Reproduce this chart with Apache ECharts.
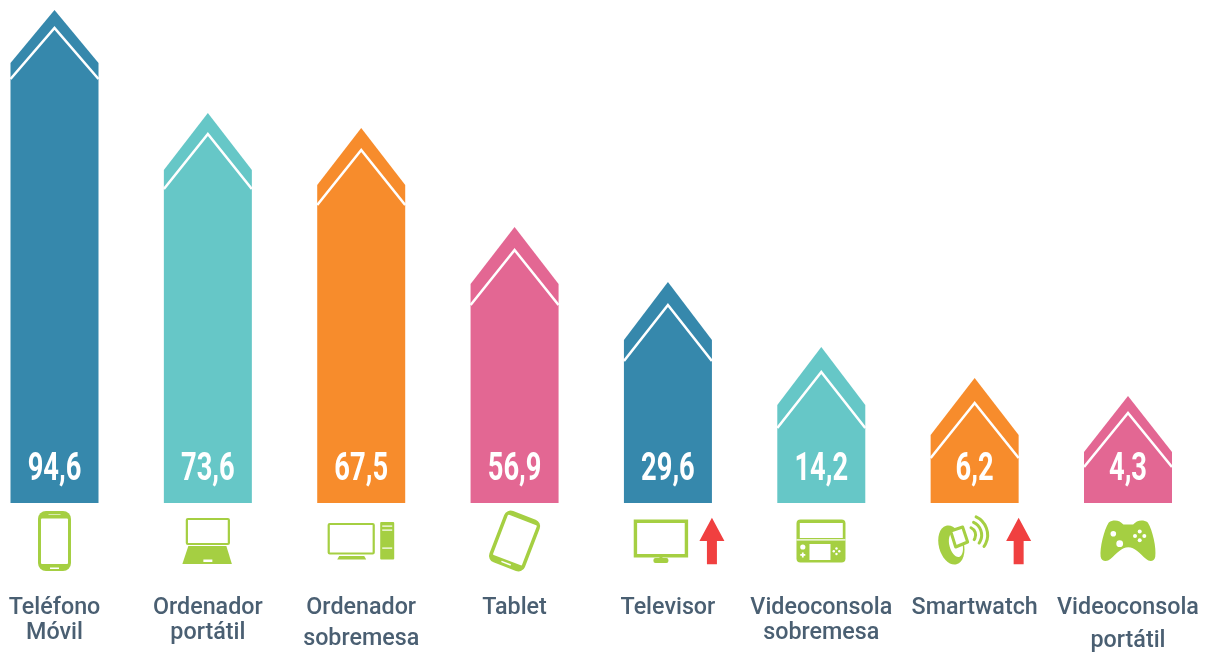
<!DOCTYPE html>
<html>
<head>
<meta charset="utf-8">
<style>html,body{margin:0;padding:0;background:#fff}#chart{width:1216px;height:652px}</style>
<script src="https://cdn.jsdelivr.net/npm/echarts@6/dist/echarts.min.js"></script>
</head>
<body>
<div id="chart"></div>
<script>
// ---- data ----
const categories = ['Teléfono\nMóvil', 'Ordenador\nportátil', 'Ordenador\nsobremesa', 'Tablet', 'Televisor', 'Videoconsola\nsobremesa', 'Smartwatch', 'Videoconsola\nportátil'];
const percentValues = [94.6, 73.6, 67.5, 56.9, 29.6, 14.2, 6.2, 4.3];
// The source graphic's shapes are not proportional to the percentages; these are the drawn heights.
const drawnHeights = [493, 390, 375, 276, 221, 156, 125, 107];
const risingFlags = [false, false, false, false, true, false, true, false];
const iconNames = ['phone', 'laptop', 'desktop', 'tablet', 'tv', 'console', 'watch', 'gamepad'];

// ---- styling / layout ----
const barColors = ['#3688ac', '#66c7c7', '#f78c2c', '#e36793', '#3688ac', '#66c7c7', '#f78c2c', '#e36793'];
const GREEN = '#a5cf42', RED = '#f04040', TEXT = '#4a5f72';
const chevronGaps = [18, 21, 22, 23, 23, 25, 25, 17];
const shoulderDrops = [53, 57, 57, 57, 58, 58, 57, 56];
const lineGaps = [0, 0, 12, 0, 0, 0, 0, 16];
const BAR_W = 88;

function rect(x, y, w, h, fill, r) {
  return {type: 'rect', shape: {x, y, width: w, height: h, r: r || 0}, style: {fill}};
}
function box(x, y, w, h, lw, r) {
  return {type: 'rect', shape: {x, y, width: w, height: h, r: r || 0}, style: {fill: '#fff', stroke: GREEN, lineWidth: lw}};
}
function circle(cx, cy, r, fill) {
  return {type: 'circle', shape: {cx, cy, r}, style: {fill}};
}
function poly(points, fill) {
  return {type: 'polygon', shape: {points}, style: {fill}};
}

// Icon drawings, local coordinates relative to the category centre (x) and baseline (y)
const icons = {
  phone: () => [
    rect(-16.5, 9, 33, 60, GREEN, 8),
    rect(-13.5, 16.5, 27, 45.5, '#fff', 1),
    rect(-4.5, 65.5, 9, 1.5, '#fff'),
    rect(-6, 12, 12, 1, '#d9ebb0')
  ],
  laptop: () => [
    box(-21, 17, 42, 25, 2.2, 1),
    poly([[-19.5, 44], [18.5, 44], [24, 62], [-25.5, 62]], GREEN),
    rect(-4.5, 57.5, 9, 2.5, '#fff')
  ],
  desktop: () => [
    box(-32.5, 22, 45, 29.5, 2.2, 1),
    poly([[-22, 54], [3, 54], [5, 57.5], [-24, 57.5]], GREEN),
    rect(19, 20, 14, 37.5, GREEN, 1),
    rect(21, 23.5, 10, 1.2, '#fff'),
    rect(21, 27.5, 10, 1.2, '#fff'),
    rect(21, 45.5, 10, 1.2, '#fff')
  ],
  tablet: () => [{
    type: 'group', x: 0, y: 39, rotation: -21 * Math.PI / 180,
    children: [
      rect(-19, -27.5, 38, 55, GREEN, 7),
      rect(-15.5, -22.5, 31, 43, '#fff', 1),
      rect(-5, 23, 10, 1.5, '#fff')
    ]
  }],
  tv: () => [
    box(-32.5, 19.2, 51, 34.5, 3.4, 0),
    rect(-14.5, 56, 15, 5, GREEN, 2),
    rect(-8.5, 54, 3, 3, GREEN)
  ],
  console: () => [
    rect(-24.8, 17.5, 49, 43, GREEN, 4),
    rect(-21.5, 21, 43, 15, '#fff'),
    rect(-24.8, 37.2, 49, 1.2, '#fff'),
    rect(-11.8, 42, 21, 16, '#fff'),
    circle(-18.5, 45, 2.6, '#fff'),
    rect(-21, 52, 5, 1.8, '#fff'),
    rect(-19.4, 50.5, 1.8, 5, '#fff'),
    circle(15.2, 46.5, 1.2, '#fff'),
    circle(15.2, 52, 1.2, '#fff'),
    circle(12.5, 49.2, 1.2, '#fff'),
    circle(18, 49.2, 1.2, '#fff')
  ],
  watch: () => [
    {type: 'group', x: -23.3, y: 43, rotation: 15 * Math.PI / 180, children: [
      {type: 'ellipse', shape: {cx: 0, cy: 0, rx: 12.5, ry: 20}, style: {fill: GREEN}},
      {type: 'ellipse', shape: {cx: 4.5, cy: 1, rx: 6.5, ry: 12.5}, style: {fill: '#fff'}}
    ]},
    {type: 'polygon', shape: {points: [[-24, 29], [-12, 25], [-7, 40], [-19, 45]]}, style: {fill: '#fff', stroke: GREEN, lineWidth: 3, lineJoin: 'round'}},
    ...[8, 14, 20].map(r => ({
      type: 'arc',
      shape: {cx: -7, cy: 33, r, startAngle: -65 * Math.PI / 180, endAngle: 35 * Math.PI / 180, clockwise: true},
      style: {fill: null, stroke: GREEN, lineWidth: 3, lineCap: 'round'}
    }))
  ],
  gamepad: () => [
    {
      type: 'path',
      shape: {
        pathData: 'M50 38C65 28 85 32 95 44L125 44C135 32 155 28 170 38C185 60 197 110 193 135C190 150 175 150 165 142C145 125 130 108 110 108C90 108 75 125 55 142C45 150 28 150 25 135C22 110 35 60 50 38Z',
        x: -27.5, y: 18.5, width: 55, height: 40.5, layout: 'cover'
      },
      style: {fill: GREEN}
    },
    circle(-14.7, 31.7, 2.8, '#fff'),
    circle(-8.3, 41.7, 3.4, '#fff'),
    circle(11.7, 29.5, 2, '#fff'),
    circle(11.7, 38.3, 2, '#fff'),
    circle(7, 34, 2, '#fff'),
    circle(16.3, 34, 2, '#fff')
  ]
};

function renderItem(params, api) {
  const i = api.value(0);
  const h = api.value(1);
  const base = api.coord([i, 0]);
  const top = api.coord([i, h]);
  const cx = base[0], by = base[1], ty = top[1];
  const hw = BAR_W / 2;
  const color = barColors[i];
  const sy = ty + shoulderDrops[i];
  const gap = chevronGaps[i];
  const chevApex = ty + gap;
  const chevEdge = sy + gap - 2;
  const children = [
    poly([[cx - hw, by], [cx - hw, sy], [cx, ty], [cx + hw, sy], [cx + hw, by]], color),
    {type: 'polyline', shape: {points: [[cx - hw, chevEdge], [cx, chevApex], [cx + hw, chevEdge]]},
      style: {fill: null, stroke: '#fff', lineWidth: 2.6}},
    {type: 'group', x: cx, y: by - 33, scaleX: 0.7, scaleY: 1,
      children: [{type: 'text', style: {
        text: String(api.value(2)).replace('.', ','), x: 0, y: 0,
        fill: '#fff', font: 'bold 39px Roboto, sans-serif', align: 'center', verticalAlign: 'middle'
      }}]},
    {type: 'group', x: cx, y: by - 1, children: icons[iconNames[i]]()}
  ];
  if (api.value(3)) {
    children.push({type: 'group', x: cx + 44, y: by - 1, children: [
      poly([[0, 15.7], [12.5, 39], [5, 39], [5, 62.3], [-5, 62.3], [-5, 39], [-12.5, 39]], RED)
    ]});
  }
  return {type: 'group', children};
}

const labelFont = {fontFamily: 'Roboto, sans-serif', fontSize: 23.3, fontWeight: 500, color: TEXT, lineHeight: 25};
const rich = {l1: labelFont};
lineGaps.forEach(g => {
  rich['l2g' + g] = Object.assign({}, labelFont, {padding: [g, 0, 0, 0]});
});

const chart = echarts.init(document.getElementById('chart'), null, {renderer: 'canvas'});
chart.setOption({
  animation: false,
  backgroundColor: '#fff',
  grid: {left: 54.5, top: 0, right: 88, height: 503, outerBoundsMode: 'none'},
  xAxis: {
    type: 'category',
    boundaryGap: false,
    data: categories,
    axisLine: {show: false},
    axisTick: {show: false},
    axisLabel: {
      interval: 0,
      margin: 93,
      hideOverlap: false,
      formatter: (v, idx) => {
        const parts = v.split('\n');
        const first = '{l1|' + parts[0] + '}';
        return parts[1] ? first + '\n{l2g' + lineGaps[idx] + '|' + parts[1] + '}' : first;
      },
      rich
    }
  },
  yAxis: {type: 'value', min: 0, max: 503, show: false},
  series: [{
    type: 'custom',
    clip: false,
    renderItem,
    encode: {x: 0, y: 1},
    data: percentValues.map((v, i) => [i, drawnHeights[i], v, risingFlags[i] ? 1 : 0])
  }]
});
</script>
</body>
</html>
